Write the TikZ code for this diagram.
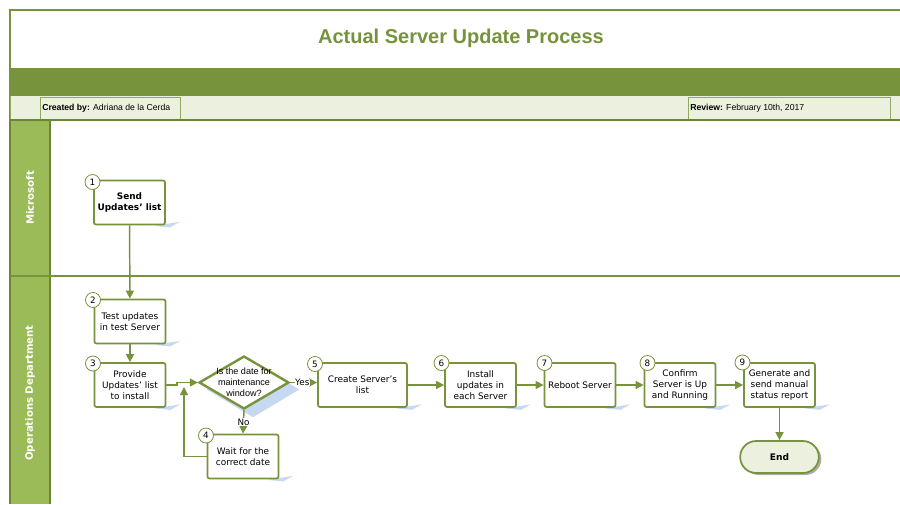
\documentclass[tikz,border=0pt]{standalone}
\usepackage{fontspec}
\setmainfont{DejaVu Sans}
\newfontfamily\arialf{Liberation Sans}
\usetikzlibrary{shapes.geometric,shapes.misc,arrows.meta,calc,backgrounds}
\definecolor{gr}{HTML}{77933C}
\definecolor{grdark}{HTML}{6A8534}
\definecolor{grtitle}{HTML}{76923C}
\definecolor{lanefill}{HTML}{9BBB59}
\definecolor{lightg}{HTML}{EBF1DE}
\definecolor{shb}{HTML}{C6D9F1}
\tikzset{
  stepbox/.style={draw=gr, line width=1.3pt, rounded corners=1.5pt, fill=white,
    minimum width=53.25pt, minimum height=33pt, align=center, inner sep=1pt,
    font=\fontsize{6.7}{8.2}\selectfont},
  numc/.style={circle, draw=gr, line width=0.6pt, fill=white, minimum size=11.25pt,
    inner sep=0pt, font=\fontsize{6.6}{7}\selectfont},
  arr/.style={draw=gr, line width=1.1pt, -{Triangle[length=6pt,width=6pt]}},
  lbl/.style={fill=white, inner sep=0.5pt, font=\fontsize{6.6}{7}\selectfont},
  lanetxt/.style={rotate=90, text=white, font=\bfseries\fontsize{7.6}{8}\selectfont},
  infotxt/.style={anchor=west, inner sep=0pt, font=\arialf\fontsize{6.5}{7}\selectfont},
  shadowc/.style={fill=shb}
}
\begin{document}
\begin{tikzpicture}[x=0.75pt,y=-0.75pt]
\useasboundingbox (0,0) rectangle (900,504);
% header
\draw[gr, line width=1.1pt] (10,504) -- (10,10) -- (900,10);
\fill[gr] (10,68) rectangle (900,96);
\fill[lightg] (10,96) rectangle (900,120);
\draw[gr!80, line width=0.5pt] (40,97) rectangle (180,119);
\draw[gr!80, line width=0.5pt] (688,97) rectangle (890,119);
\draw[gr!80, line width=0.5pt] (10,96) -- (10,120);
\node[infotxt] (cb) at (42,108) {\textbf{Created by:} Adriana de la Cerda};
\node[infotxt] (rv) at (690,108) {\textbf{Review:} February 10th, 2017};
\node[text=grtitle, font=\arialf\bfseries\fontsize{15}{17}\selectfont] (title) at (461,38) {Actual Server Update Process};
% lanes
\fill[lanefill] (10,121) rectangle (50,504);
\draw[grdark, line width=1.8pt] (10,120) -- (900,120);
\draw[grdark, line width=1.6pt] (10,121) -- (10,504);
\draw[grdark, line width=1.6pt] (50,121) -- (50,504);
\draw[gr, line width=2.2pt] (10,276) -- (900,276);
\node[lanetxt] (l1) at (30,198) {Microsoft};
\node[lanetxt] (l2) at (30,393) {Operations Department};
% nodes
\node[stepbox, font=\bfseries\fontsize{6.7}{8.2}\selectfont] (b1) at (129.5,202.5) {Send\\Updates’ list};
\node[stepbox] (b2) at (130,321.5) {Test updates\\in test Server};
\node[stepbox] (b3) at (130,385) {Provide\\Updates’ list\\to install};
\node[diamond, draw=gr, line width=1.8pt, fill=white, minimum width=67.5pt, minimum height=39.75pt, inner sep=0pt] (d) at (244,382.5) {};
\node[align=center, font=\arialf\fontsize{6.8}{8.2}\selectfont] (dt) at (244,382) {Is the date for\\maintenance\\window?};
\node[stepbox] (b4) at (243,456.5) {Wait for the\\correct date};
\node[stepbox, minimum width=66.75pt] (b5) at (362.5,385) {Create Server’s\\list};
\node[stepbox] (b6) at (480.5,385) {Install\\updates in\\each Server};
\node[stepbox] (b7) at (580,385) {Reboot Server};
\node[stepbox] (b8) at (680,385) {Confirm\\Server is Up\\and Running};
\node[stepbox] (b9) at (779.5,385) {Generate and\\send manual\\status report};
\node[rounded rectangle, draw=gr, line width=1.3pt, fill=lightg, minimum width=59pt, minimum height=24pt, inner sep=0pt, font=\bfseries\fontsize{6.8}{8}\selectfont] (end) at (779.5,457) {End};
% numbers
\node[numc] (n1) at (92.5,182) {1};
\node[numc] (n2) at (93,300) {2};
\node[numc] (n3) at (93,363.5) {3};
\node[numc] (n4) at (206,435.5) {4};
\node[numc] (n5) at (315,364) {5};
\node[numc] (n6) at (441.5,363) {6};
\node[numc] (n7) at (544.5,363) {7};
\node[numc] (n8) at (647.5,363) {8};
\node[numc] (n9) at (742.5,362.5) {9};
% shadows
\begin{scope}[on background layer]
\foreach \n in {b1,b2,b3,b4,b5,b6,b7,b8,b9}{
  \fill[shadowc] ($(\n.south east)+(-12,0.5)$) -- ($(\n.south east)+(14,-3.5)$) -- ($(\n.south east)+(4,2)$) -- cycle;
}
\fill[shadowc] ($(d.north)+(9,7)$) -- ($(d.east)+(9,7)$) -- ($(d.south)+(9,7)$) -- ($(d.west)+(9,7)$) -- cycle;
\node[rounded rectangle, fill=gray!65, minimum width=59pt, minimum height=24pt, inner sep=0pt] (endsh) at (782,459) {};
\end{scope}
% connectors
\coordinate (j1) at (177,385);
\coordinate (j2) at (184,387);
\draw[arr] (b1) -- (b2);
\draw[arr] (b2) -- (b3);
\draw[arr] (b3.east) -- (j1) |- (d.west);
\draw[arr] (b4.west) -| (j2);
\draw[arr] (d.south) -- node[lbl] (no) {No} (b4.north);
\draw[arr] (d.east) -- node[lbl, pos=0.45] (yes) {Yes} (d.east -| b5.west);
\draw[arr] (b5) -- (b6);
\draw[arr] (b6) -- (b7);
\draw[arr] (b7) -- (b8);
\draw[arr] (b8) -- (b9);
\draw[arr] (b9) -- (end);
\end{tikzpicture}
\end{document}
